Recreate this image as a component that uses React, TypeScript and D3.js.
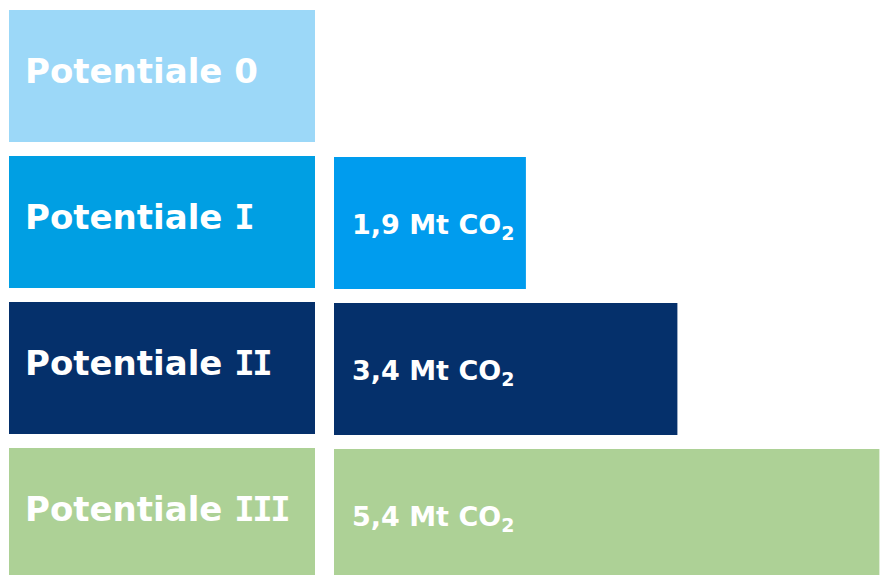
import React from "react";
import * as d3 from "d3";

const categories = ["Potentiale 0", "Potentiale I", "Potentiale II", "Potentiale III"];
const values: (number | null)[] = [null, 1.9, 3.4, 5.4];
const valueLabels = ["", "1,9", "3,4", "5,4"];
const labelColors = ["#9CD8F8", "#009FE3", "#05306B", "#ADD196"];
const barColors = ["#9CD8F8", "#009CEE", "#05306B", "#ADD196"];

const W = 881;
const H = 575;

function renderLabel(c: string) {
  const idx = c.lastIndexOf(" ");
  const head = c.slice(0, idx + 1);
  const num = c.slice(idx + 1);
  if (/^I+$/.test(num)) {
    return (
      <>
        {head}
        <tspan fontFamily="'DejaVu Sans Mono', monospace" letterSpacing={-2.5}>
          {num}
        </tspan>
      </>
    );
  }
  return c;
}

export default function App() {
  const y = d3
    .scaleBand<string>()
    .domain(categories)
    .range([10, 10 + 146 * 4 - 14])
    .paddingInner(14 / 146)
    .paddingOuter(0);
  const x = d3.scaleLinear().domain([0, 5.4]).range([334, 334 + 5.4 * 101]);
  const font = "'DejaVu Sans', Verdana, sans-serif";
  return (
    <div style={{ position: "fixed", left: 0, top: 0, width: W, height: H, background: "#fff" }}>
      <svg width={W} height={H} style={{ display: "block" }}>
        {categories.map((c, i) => {
          const y0 = y(c)!;
          const bw = y.bandwidth();
          const v = values[i];
          return (
            <g key={c}>
              <rect x={9} y={y0} width={306} height={bw} fill={labelColors[i]} />
              <text
                x={25}
                y={y0 + 73}
                fill="#fff"
                fontFamily={font}
                fontWeight="bold"
                fontSize={34}
              >
                {renderLabel(c)}
              </text>
              {v !== null && (
                <g>
                  <rect x={x(0)} y={y0 + 1} width={x(v) - x(0)} height={bw} fill={barColors[i]} />
                  <text
                    x={x(0) + 18}
                    y={y0 + 78}
                    fill="#fff"
                    fontFamily={font}
                    fontWeight="bold"
                    fontSize={27}
                  >
                    {valueLabels[i] + " Mt CO"}
                    <tspan fontSize={19} dy={6}>2</tspan>
                  </text>
                </g>
              )}
            </g>
          );
        })}
      </svg>
    </div>
  );
}
